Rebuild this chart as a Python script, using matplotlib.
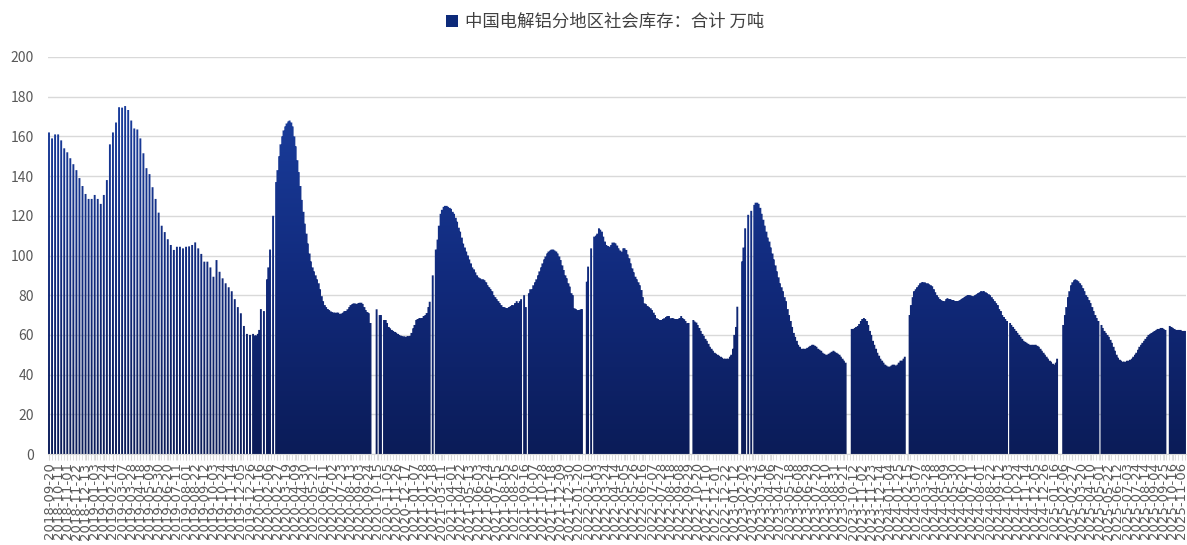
import matplotlib
matplotlib.use('Agg')
import matplotlib.pyplot as plt
import matplotlib.dates as mdates
from matplotlib.colors import LinearSegmentedColormap
from matplotlib.patches import Patch
from matplotlib.path import Path
import numpy as np
import pandas as pd

plt.rcParams['font.family'] = ['Noto Sans CJK SC', 'DejaVu Sans']

title = '中国电解铝分地区社会库存：合计 万吨'

# weekly readings (Thursdays) 2018-09-20 .. 2019-12-26
weekly_start = '2018-09-20'
weekly_vals = [162, 159, 161, 161, 158, 154, 152, 149, 146, 143,
               139, 135, 131, 128.5, 128.5, 130.5, 128.5, 126, 130.5, 138,
               156, 162, 167, 174.7, 174.5, 175.3, 173.3, 168, 164, 163.5,
               159, 151.5, 144, 141, 134.4, 128.5, 121.6, 115, 111.8, 108.2,
               105.3, 102.8, 104.4, 104.4, 103.6, 104.4, 104.6, 105.3, 106.6, 103.6,
               100.8, 96.9, 96.9, 94, 89.3, 97.7, 91.8, 88.5, 86, 84,
               82, 78, 74, 70.9, 64.5, 60.5, 60]

# from 2020: Monday/Thursday readings, one row per month, None = no report
v2020 = [[60.5, 59.7, 59.7, 60.5, 62.5, 73, None, 72, None],
         [88, 94, 103, None, 120, None, 137, 143],
         [150, 156, 160, 163, 165, 166.5, 167.5, 168, 167],
         [165, 160, 155, 148, 142, 135, 128, 122, 116],
         [111, 106, 101, 97, 94, 92, 90, 88],
         [86, 83, 79.5, 77, 75, 74, 73, 72.5, 71.8],
         [71.5, 71.2, 71.2, 71.2, 71.2, 70.5, 70.8, 71.2, 72],
         [72, 72.9, 74, 75, 75.5, 75.9, 75.8, 75.6, 76],
         [76.2, 76.2, 75.6, 74, 72.5, 71.5, 70.9, 66],
         [None, None, None, 72.9, None, 70, 70, None, 67.5],
         [67.5, 66, 64, 63.3, 62.5, 62, 61.5, 61.1, 60.5],
         [60, 59.6, 59.4, 59.2, 59.1, 59.2, 59.4, 59.5, 61]]
v2021 = [[63.3, 65, 67.5, 68, 68.4, 68.4, 68.5, 69.5],
         [70, 71, 74, 76.7, None, 90, None, 103],
         [108, 115, 121, 123, 124.5, 125, 125, 124.5, 124],
         [123.5, 122, 121, 119, 117, 114, 112, 109, 106],
         [104, 102, 100, 98, 96, 94, 93, 91.5, 90],
         [89, 88.5, 88, 88, 87.5, 86.5, 85, 84],
         [83, 82, 80, 79, 78, 77, 76, 75, 74],
         [74, 73.5, 73.5, 74, 74.5, 75, 75, 76, 77],
         [76, 77, 78, None, 80, 74, None, 81, 83],
         [83, 85, 86.5, 88, 90, 92, 94, 96],
         [98, 99.5, 101, 102, 102.5, 103, 103, 102.5, 102],
         [101, 99.5, 97.7, 95, 92.7, 90, 88.5, 86, 84.3]]
v2022 = [[81, 80, 73.4, 73, 72.5, 72.5, 72.9, 73, None],
         [None, 86.8, 94.4, None, 103.6, None, 109.5, 110],
         [111, 113.7, 113, 112, 109.5, 107, 105.3, 104.7, 104.4],
         [105.3, 106.5, 106.5, 106.1, 105, 103.6, 102.5, 101.9],
         [103.6, 103.6, 102.8, 100.5, 98.6, 96, 93.5, 91.5, 89.3],
         [88, 86.5, 85, 82.6, 79, 75.9, 75.5, 74.6, 74],
         [73.4, 72.5, 71.2, 70, 68.4, 68, 67.5, 67.5],
         [68, 68.4, 69, 69.5, 69.5, 68.4, 68.4, 68.4, 68],
         [68, 67.9, 68.5, 69.5, 68.5, 67.9, 67, 65.8, 66],
         [None, None, 67.5, 66.7, 66.2, 65, 63.5, 62, 60.5],
         [59.5, 58, 57, 55.5, 54, 53, 52, 51],
         [50.5, 50, 49.5, 49, 48.5, 48, 48, 48, 48]]
v2023 = [[49, 50, 53, 60, 64, 74.2, None, None, 97],
         [104, 113.7, None, 120.5, None, 122.5, None, 125.5],
         [126.6, 126.6, 126, 124, 121, 118, 115, 112, 109],
         [107, 104, 101, 98, 95, 92, 89, 86],
         [84, 82, 79, 77, 73, 70, 67, 64, 61],
         [59, 57, 55, 54, 53, 53, 53, 53, 53.5],
         [54, 54.5, 55, 55, 54.5, 54, 53, 52.5, 52],
         [51, 50.5, 50, 50, 50.5, 51, 51.5, 52, 51.5],
         [51, 50.5, 50, 49, 48, 47, 46, None],
         [None, None, 63, 63, 63.5, 64, 64.5, 65.5, 67],
         [68, 68.5, 68, 67, 65, 62, 60, 57, 55],
         [53, 51, 49.5, 48, 47, 46, 45, 44.5]]
v2024 = [[44, 44, 44.5, 45, 45, 44.5, 45, 46, 47],
         [47, 48, 49, None, None, 70, 75, 79, 82],
         [83, 84, 85, 86, 86.5, 86.5, 86.5, 86],
         [86, 85.5, 85, 84.5, 83, 81.5, 80, 79, 78],
         [77.5, 77, 77, 78, 78.5, 78, 78, 77.5, 77.5],
         [77, 77, 77, 77.5, 78, 78.5, 79, 79.5],
         [80, 80, 80, 79.5, 79.5, 80, 80.5, 81, 81.5],
         [82, 82, 82, 81.5, 81, 80.5, 80, 79, 78],
         [77, 76, 75, 73, 72, 70, 69, 68, 67],
         [None, 66, 65, 64, 63, 62, 61, 60, 59],
         [58, 57, 56.5, 56, 55.5, 55, 55, 55],
         [55, 55, 54.5, 54, 53, 52, 51, 50, 49]]
v2025 = [[48, 47, 46.5, 45.5, 45, 46, 48, None, None],
         [None, 65, 70, 74, 79, 82, 85, 86.5],
         [87.5, 88, 87.5, 87, 86, 85, 83.5, 82, 80],
         [79, 77.5, 76, 74, 72, 70, 68.5, 67],
         [None, 65, 63.5, 62, 61, 60, 59, 57.5, 56],
         [54, 52, 50, 48.5, 47.5, 47, 46.5, 46.5, 46.5],
         [47, 47, 47.5, 48, 49, 50, 51, 52.5, 54],
         [55, 56, 57, 58, 59, 60, 60.5, 61],
         [61.5, 62, 62.5, 63, 63, 63.5, 63.5, 63, 62.5],
         [None, None, 64.5, 64, 63.5, 63, 62.5, 62.5, 62.5],
         [62.5, 62, 62, 62]]

dates = list(pd.date_range(weekly_start, periods=len(weekly_vals), freq='7D'))
vals = list(weekly_vals)
for year, months in zip(range(2020, 2026), [v2020, v2021, v2022, v2023, v2024, v2025]):
    for m, row in enumerate(months, start=1):
        days = pd.date_range(f'{year}-{m:02d}-01', periods=31, freq='D')
        days = days[(days.month == m) & days.weekday.isin([0, 3])]
        for d, v in zip(days, row):
            if v is not None:
                dates.append(d)
                vals.append(v)

fig = plt.figure(figsize=(11.87, 5.45), dpi=100)
ax = fig.add_axes([48 / 1187, 91 / 545, 1138 / 1187, 397 / 545])

bars = ax.bar(dates, vals, width=4.4, color='none', linewidth=0, zorder=2)

# vertical gradient clipped to the bars
paths = [r.get_path().transformed(r.get_patch_transform()) for r in bars]
clip = Path.make_compound_path(*paths)
cmap = LinearSegmentedColormap.from_list('g', ['#0b1c58', '#112a7c', '#1a3d9c'])
x0 = mdates.date2num(dates[0]) - 2.3
x1 = mdates.date2num(dates[-1]) + 2.3
grad = np.linspace(0, 1, 256).reshape(-1, 1)
im = ax.imshow(grad, cmap=cmap, extent=[x0, x1, 0, 175], origin='lower',
               aspect='auto', zorder=2, interpolation='bilinear')
im.set_clip_path(clip, ax.transData)

ax.set_xlim(x0, x1)
ax.set_ylim(0, 200)
ax.set_yticks(np.arange(0, 201, 20))
ax.grid(axis='y', color='#d9d9d9', linewidth=1)
ax.set_axisbelow(True)
for s in ['left', 'top', 'right']:
    ax.spines[s].set_visible(False)
ax.spines['bottom'].set_color('#d9d9d9')
ax.tick_params(axis='y', length=0, pad=10, labelsize=10, labelcolor='#595959')

ticks = pd.date_range(weekly_start, dates[-1], freq='21D')
ax.set_xticks(ticks)
ax.set_xticklabels([t.strftime('%Y-%m-%d') for t in ticks], rotation=90,
                   fontsize=9.5, color='#595959', family='DejaVu Sans')
ax.xaxis.set_minor_locator(mdates.DayLocator(interval=7))
ax.tick_params(axis='x', which='both', length=4, color='#d9d9d9', pad=2)

fig.legend(handles=[Patch(facecolor='#0d2a7a')], labels=[title],
           loc='center', bbox_to_anchor=(605 / 1187, 1 - 22 / 545), frameon=False,
           handlelength=0.7, handleheight=0.7, handletextpad=0.4,
           prop={'size': 12.5}, labelcolor='#404040')

fig.savefig('out.png', dpi=100)
